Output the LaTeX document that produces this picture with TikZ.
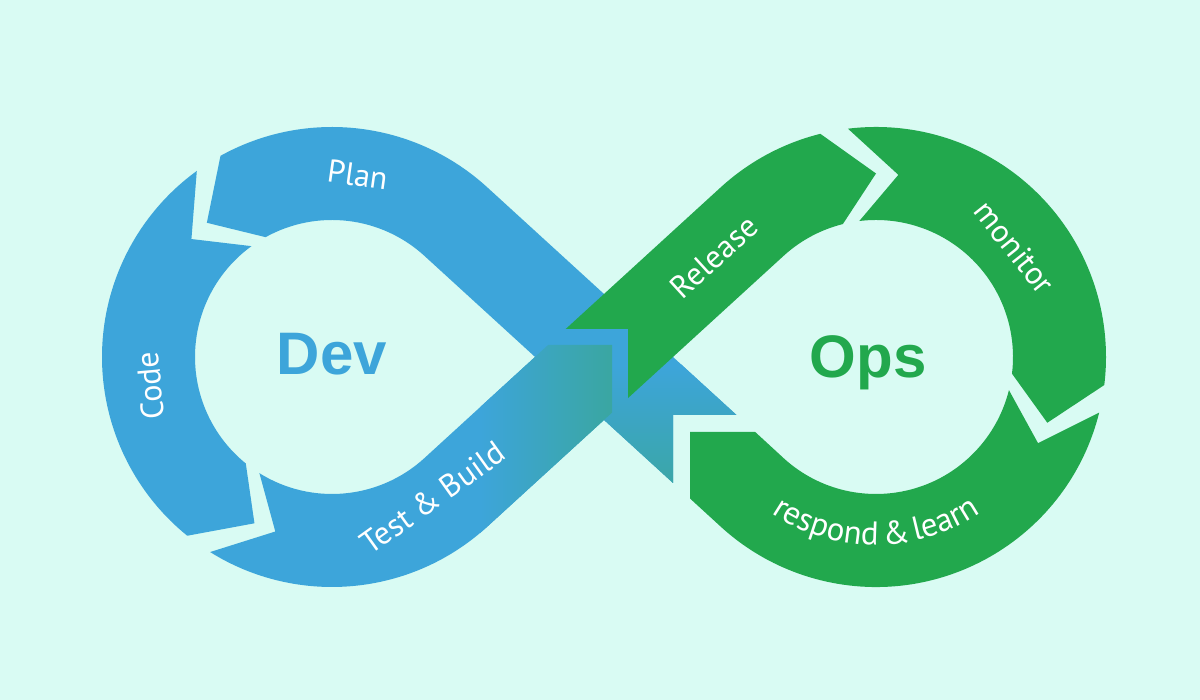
\documentclass[tikz,border=0pt]{standalone}
\usepackage{fontspec}
\usetikzlibrary{calc}
\newfontfamily\labfont{PT Sans}
\newfontfamily\headfont{Liberation Sans}
\definecolor{bgc}{RGB}{217,251,243}
\definecolor{devblue}{RGB}{61,165,218}
\definecolor{opsgreen}{RGB}{34,168,77}
\definecolor{tealc}{RGB}{58,166,160}
\def\Rin{68.5pt}
\def\Rout{115pt}
\def\Rmid{91.75pt}
\begin{document}
\begin{tikzpicture}[x=0.5pt,y=0.5pt,
  lab/.style={text=white,font=\labfont\fontsize{16}{19}\selectfont,inner sep=0pt},
  big/.style={font=\headfont\bfseries\fontsize{30}{34}\selectfont,inner sep=0pt}]
\fill[bgc] (0,0) rectangle (1200,700);
\useasboundingbox (0,0) rectangle (1200,700);
\coordinate (CL) at (332,343);
\coordinate (CR) at (876,343);

% Plan band (under the crossing)
\def\planpath{(673,217) -- (673,285) -- (736.5,285) -- ($(CL)+(47.6:\Rout)$) arc[start angle=47.6,end angle=119,radius=\Rout] -- ($(CL)+(133:\Rmid)$) -- ($(CL)+(119:\Rin)$) arc[start angle=119,end angle=47.6,radius=\Rin] -- cycle}
\fill[devblue] \planpath;
\begin{scope}
\clip \planpath;
\shade[top color=devblue,bottom color=tealc] (580,200) rectangle (760,335);
\end{scope}

% Test & Build
\def\tbpath{($(CL)+(238:\Rout)$) arc[start angle=238,end angle=312.4,radius=\Rout] -- (612,287.3) -- (612,355) -- (548.1,355) -- ($(CL)+(312.4:\Rin)$) arc[start angle=312.4,end angle=238,radius=\Rin] -- ($(CL)+(252:\Rmid)$) -- cycle}
\fill[devblue] \tbpath;
\begin{scope}
\clip \tbpath;
\shade[left color=devblue,right color=tealc] (480,150) rectangle (615,360);
\end{scope}

% Release
\fill[opsgreen] (565.7,371) -- ($(CR)+(132.4:\Rout)$) arc[start angle=132.4,end angle=104,radius=\Rout] -- ($(CR)+(90:\Rmid)$) -- ($(CR)+(104:\Rin)$) arc[start angle=104,end angle=132.4,radius=\Rin] -- (628,301.9) -- (628,371) -- cycle;

% Code
\fill[devblue] ($(CL)+(126:\Rout)$) arc[start angle=126,end angle=231,radius=\Rout] -- ($(CL)+(245:\Rmid)$) -- ($(CL)+(231:\Rin)$) arc[start angle=231,end angle=126,radius=\Rin] -- ($(CL)+(140:\Rmid)$) -- cycle;

% monitor
\fill[opsgreen] ($(CR)+(97:\Rout)$) arc[start angle=97,end angle=-7,radius=\Rout] -- ($(CR)+(-21:\Rmid)$) -- ($(CR)+(-7:\Rin)$) arc[start angle=-7,end angle=97,radius=\Rin] -- ($(CR)+(83:\Rmid)$) -- cycle;

% respond & learn
\fill[opsgreen] ($(CR)+(-14:\Rout)$) arc[start angle=-14,end angle=-132.4,radius=\Rout] -- (690,201.5) -- (690,268) -- (755.2,268) -- ($(CR)+(-132.4:\Rin)$) arc[start angle=-132.4,end angle=-14,radius=\Rin] -- ($(CR)+(-28:\Rmid)$) -- cycle;

% labels
\node[lab,rotate=-8] (plan) at ($(CL)+(82:92pt)$) {Plan};
\node[lab,rotate=95] (code) at ($(CL)+(189:92pt)$) {Code};
\node[lab,rotate=35.6] (tb) at ($(CL)+(-54.4:86.5pt)$) {Test \& Build};
\node[lab,rotate=42.4] (rel) at (713.8,443.2) {Release};
\node[lab,rotate=-51.6] (mon) at ($(CR)+(38.4:88.5pt)$) {monitor};
\foreach \ch/\s [count=\i] in {r/5.6,e/18.95,s/33.2,p/48.05,o/64.75,n/81.45,d/98.15,{\&}/124.2,l/145.95,e/157.75,a/173.1,r/186.3,n/200.25}{
  \pgfmathsetmacro\ang{270+(\s-104.3)*1.07/188*57.2958}
  \pgfmathsetmacro\rot{\ang-270}
  \node[lab,anchor=base,rotate=\rot,font=\labfont\fontsize{16.5}{19}\selectfont] (resp\i) at ($(CR)+(\ang:94pt)$) {\ch};
}

\node[big,text=devblue,anchor=base] (dev) at (332,325) {Dev};
\node[big,text=opsgreen,anchor=base] (ops) at (868,322) {Ops};
\end{tikzpicture}
\end{document}
